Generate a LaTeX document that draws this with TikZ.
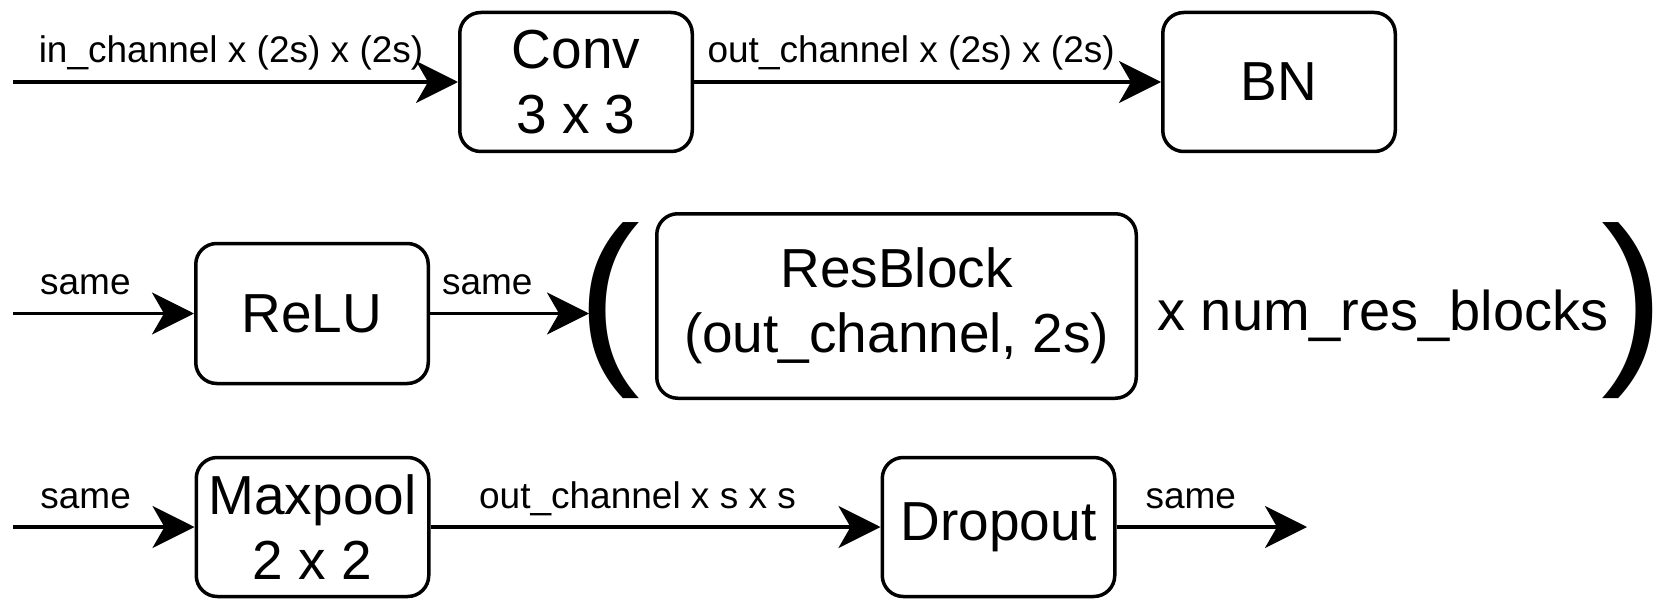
\documentclass[tikz,border=0pt]{standalone}
\usepackage{fontspec}
\setmainfont{Liberation Sans}
\usetikzlibrary{arrows.meta}
\begin{document}
\begin{tikzpicture}[x=1pt,y=-1pt,
  box/.style={draw, line width=3.5pt, rounded corners=21pt, inner sep=0pt, align=center,
    minimum width=232.5pt, minimum height=139pt, font=\fontsize{55}{65}\selectfont},
  flow/.style={line width=3.5pt, -{Stealth[length=42pt,width=42pt,inset=12pt]}},
  lab/.style={anchor=base, yshift=19pt, inner sep=0pt, font=\fontsize{37}{44}\selectfont},
  paren/.style={anchor=base west, inner sep=0pt, font=\fontsize{189}{189}\selectfont},
  plain/.style={anchor=base, inner sep=0pt, font=\fontsize{56}{66}\selectfont}]
\fill[white] (0,0) rectangle (1657,615);
\useasboundingbox (0,0) rectangle (1657,615);
% row 1
\node[box] (conv) at (576,82) {Conv\\3 x 3};
\node[box] (bn) at (1279,82) {BN};
\coordinate (s1) at (13,82);
\draw[flow] (s1) -- node[lab, pos=0.49] {in\_channel x (2s) x (2s)} (conv);
\draw[flow] (conv) -- node[lab, pos=0.465] {out\_channel x (2s) x (2s)} (bn);
% row 2
\node[box, minimum height=140pt] (relu) at (312,313.5) {ReLU};
\node[box, minimum width=479.5pt, minimum height=184.5pt] (res) at (896.5,306) {ResBlock\\(out\_channel, 2s)};
\node[paren] (lp) at (577.6,359.2) {(};
\node[paren] (rp) at (1601,359.2) {)};
\node[plain] (times) at (1383,330) {x num\_res\_blocks};
\coordinate (s2) at (13,313.5);
\coordinate (e2) at (589,313.5);
\draw[flow] (s2) -- node[lab, pos=0.40] {same} (relu);
\draw[flow] (relu) -- node[lab, pos=0.36] {same} (e2);
% row 3
\node[box] (pool) at (312.5,527) {Maxpool\\2 x 2};
\node[box] (drop) at (998.5,527) {Dropout};
\coordinate (s3) at (13,527);
\coordinate (e3) at (1307,527);
\draw[flow] (s3) -- node[lab, pos=0.40] {same} (pool);
\draw[flow] (pool) -- node[lab, pos=0.46] {out\_channel x s x s} (drop);
\draw[flow] (drop) -- node[lab, pos=0.39] {same} (e3);
\end{tikzpicture}
\end{document}
